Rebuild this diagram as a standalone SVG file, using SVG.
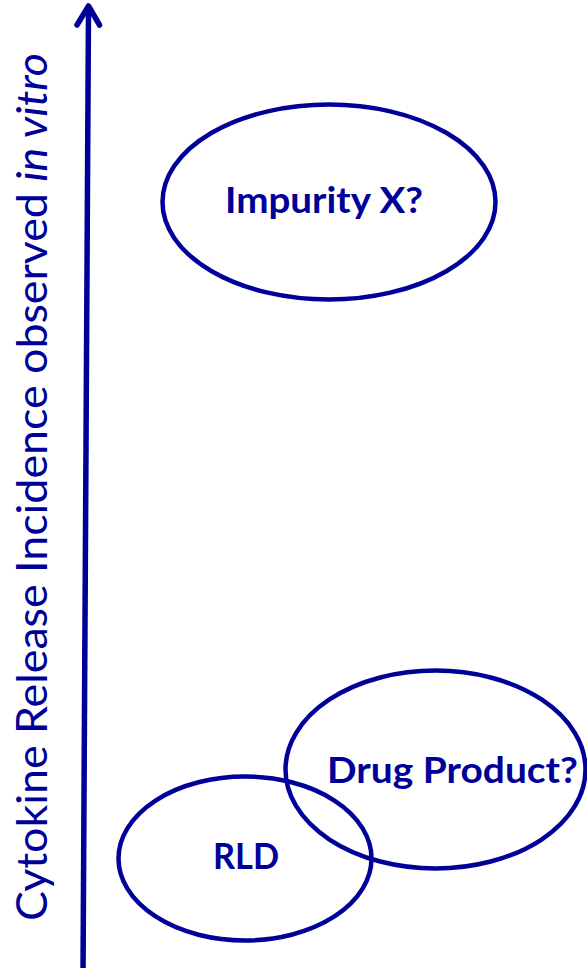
<svg xmlns="http://www.w3.org/2000/svg" width="587" height="968" viewBox="0 0 587 968">
<style>
.ell{fill:none;stroke:#000099;stroke-width:4.5}
.lbl{font-family:Lato,"Open Sans","Liberation Sans",sans-serif;font-weight:bold;font-size:36px;fill:#000099;text-anchor:start}
.axis{font-family:Lato,"Open Sans","Liberation Sans",sans-serif;font-size:42px;fill:#000099}
.ax{fill:none;stroke:#000099;stroke-width:5.5;stroke-linecap:round;stroke-linejoin:round}
</style>
<rect width="587" height="968" fill="#ffffff"/>
<g id="connectors">
<line class="ax" x1="83" y1="975" x2="88.5" y2="7" style="stroke-linecap:butt"/>
<polyline class="ax" points="77,25 88.5,6 99.5,25"/>
</g>
<g id="axis-label">
<text class="axis" transform="translate(47,921) rotate(-90)" textLength="868" lengthAdjust="spacingAndGlyphs">Cytokine Release Incidence observed <tspan font-style="italic">in vitro</tspan></text>
</g>
<g id="impurity">
<ellipse class="ell" cx="329" cy="202" rx="166.5" ry="97.5"/>
<text class="lbl" x="225" y="213" textLength="198" lengthAdjust="spacingAndGlyphs">Impurity X?</text>
</g>
<g id="drug-product">
<ellipse class="ell" cx="435.5" cy="769.5" rx="150" ry="99"/>
<text class="lbl" x="327" y="783" textLength="251" lengthAdjust="spacingAndGlyphs">Drug Product?</text>
</g>
<g id="rld">
<ellipse class="ell" cx="245" cy="858.5" rx="126.5" ry="82"/>
<text class="lbl" x="213" y="869" textLength="66" lengthAdjust="spacingAndGlyphs">RLD</text>
</g>
</svg>
